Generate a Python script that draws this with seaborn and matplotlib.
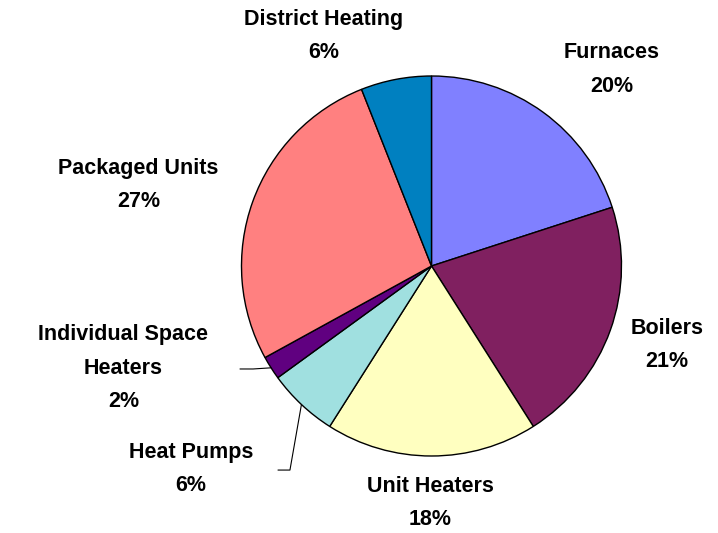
import numpy as np
import matplotlib.pyplot as plt
import seaborn as sns

# slice data, clockwise from 12 o'clock
categories = ['Furnaces', 'Boilers', 'Unit Heaters', 'Heat Pumps',
              'Individual Space\nHeaters', 'Packaged Units', 'District Heating']
shares = [20, 21, 18, 6, 2, 27, 6]
colors = ['#8080FF', '#802060', '#FFFFC0', '#A0E0E0', '#600080', '#FF8080', '#0080C0']

# label block centres (pie radius = 1)
label_pos = [(0.95, 1.035), (1.239, -0.416), (-0.008, -1.247), (-1.266, -1.068),
             (-1.622, -0.537), (-1.542, 0.426), (-0.568, 1.211)]
# leader lines: (elbow, end) for the small slices
leaders = {3: [(-0.745, -1.074), (-0.808, -1.074)],
           4: [(-0.939, -0.542), (-1.008, -0.542)]}

sns.set_theme(style='white')
plt.rcParams['font.family'] = ['Liberation Sans', 'DejaVu Sans']

fig = plt.figure(figsize=(7.18, 5.33), dpi=100)
ax = fig.add_axes([0, 0, 1, 1])
wedges, _ = ax.pie(shares, colors=sns.color_palette(colors), startangle=90,
                   counterclock=False, radius=1,
                   wedgeprops=dict(edgecolor='black', linewidth=1.0))

for i, (name, val) in enumerate(zip(categories, shares)):
    x, y = label_pos[i]
    ax.text(x, y, name + '\n' + str(val) + '%', ha='center', va='center',
            multialignment='center', fontsize=15.5, fontweight='bold',
            linespacing=1.8, color='black')
    if i in leaders:
        w = wedges[i]
        mid = np.deg2rad((w.theta1 + w.theta2) / 2)
        pts = [(np.cos(mid), np.sin(mid))] + leaders[i]
        ax.plot([p[0] for p in pts], [p[1] for p in pts], color='black', lw=0.8)

ax.set_xlim(-431.5 / 190, (718 - 431.5) / 190)
ax.set_ylim(-(533 - 266) / 190, 266 / 190)
ax.set_aspect('equal')
ax.axis('off')
fig.savefig('out.png', dpi=100)
